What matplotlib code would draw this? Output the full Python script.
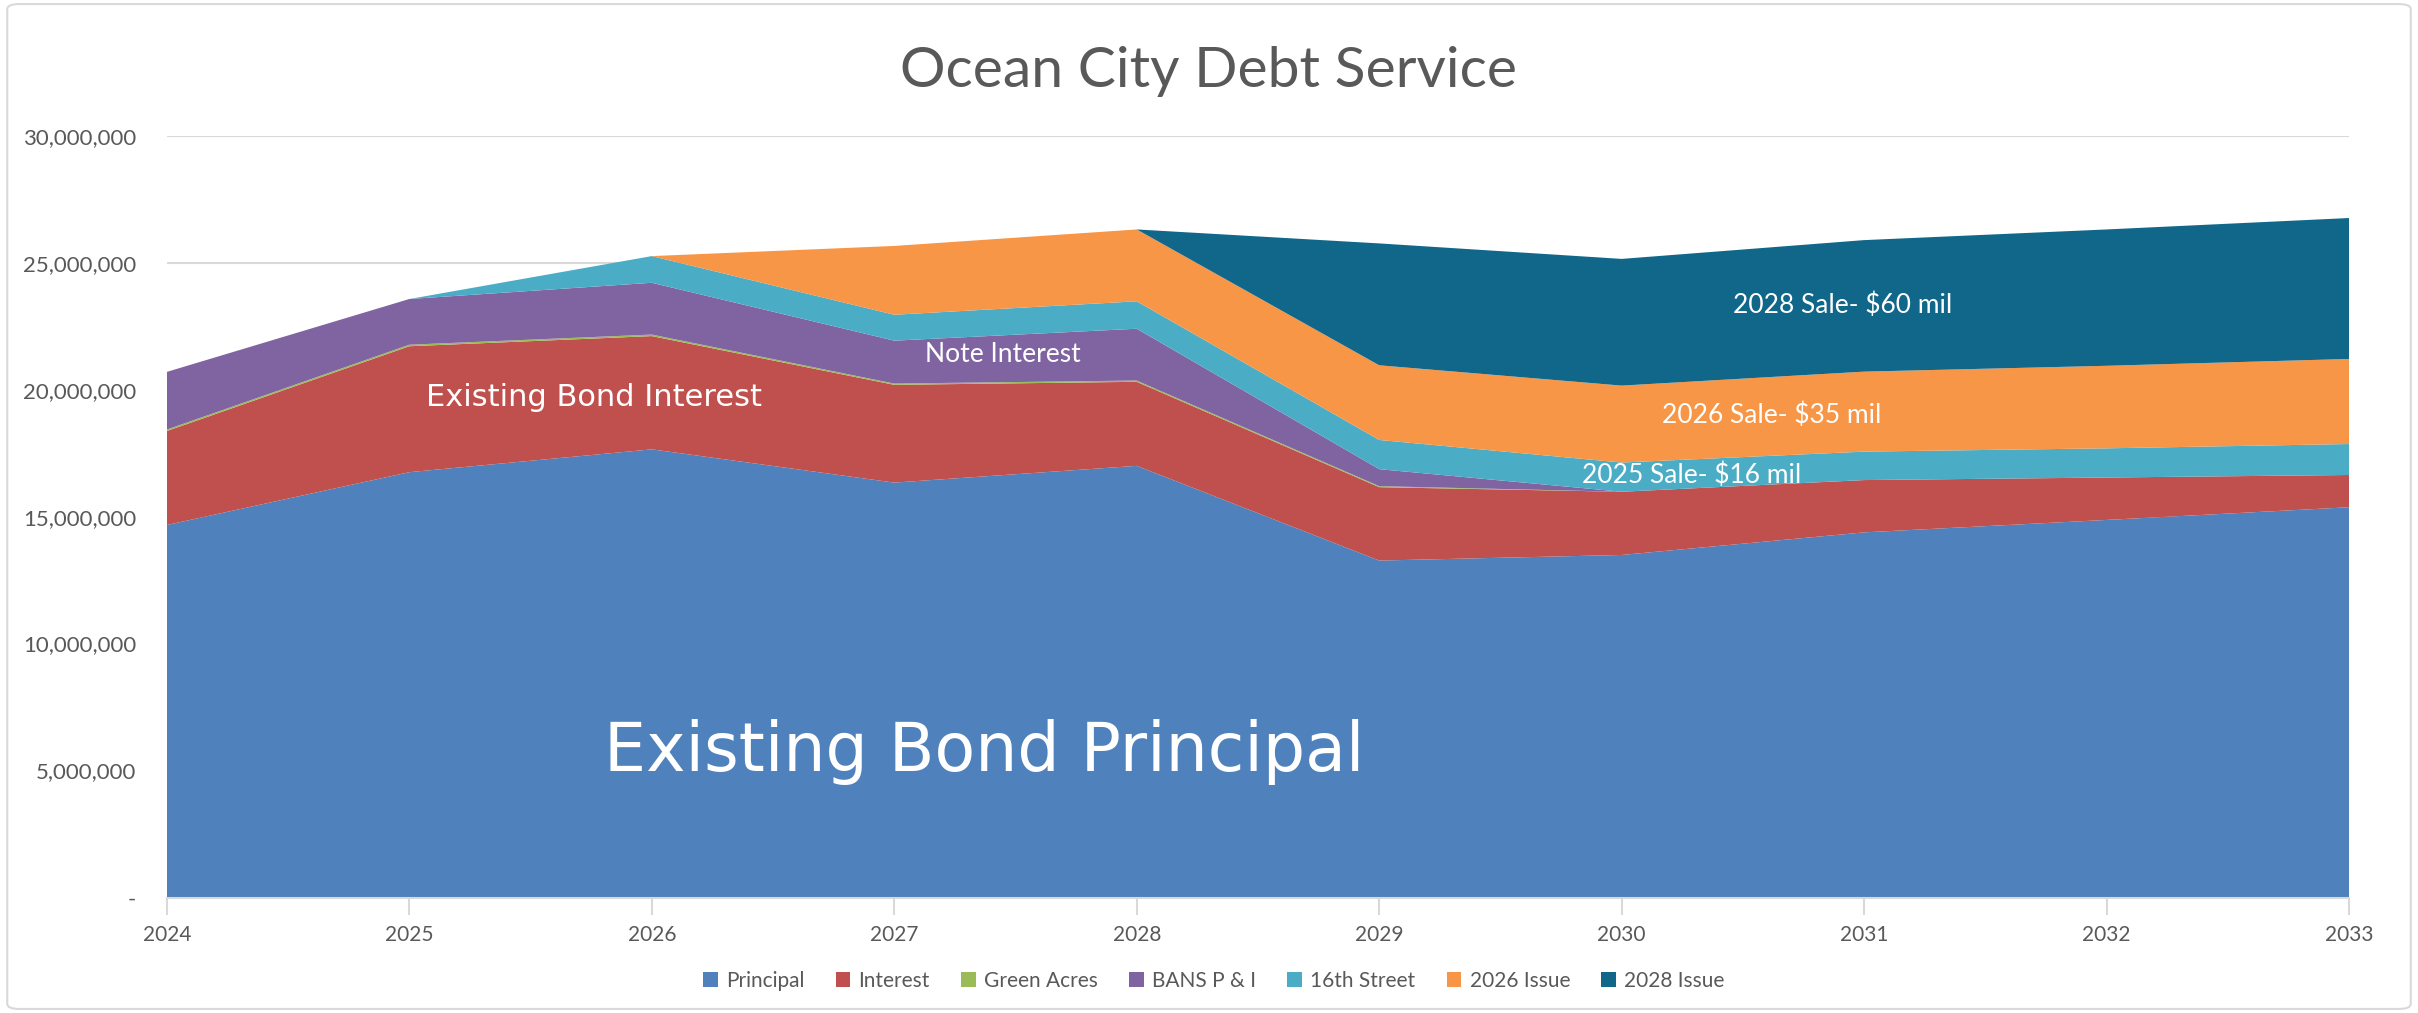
import matplotlib
matplotlib.use('Agg')
import matplotlib.pyplot as plt
from matplotlib.patches import FancyBboxPatch
from matplotlib.ticker import FuncFormatter

plt.rcParams['font.family'] = ['Lato', 'DejaVu Sans']

years = [2024, 2025, 2026, 2027, 2028, 2029, 2030, 2031, 2032, 2033]

# values in dollars (millions)
principal = [14.67, 16.75, 17.65, 16.34, 17.00, 13.27, 13.49, 14.38, 14.87, 15.37]
interest = [3.70, 4.96, 4.46, 3.85, 3.31, 2.89, 2.49, 2.06, 1.67, 1.27]
green_acres = [0.06, 0.06, 0.06, 0.05, 0.05, 0.04, 0.0, 0.0, 0.0, 0.0]
bans = [2.27, 1.80, 2.04, 1.69, 2.04, 0.67, 0.0, 0.0, 0.0, 0.0]
street16 = [0.0, 0.0, 1.05, 1.02, 1.08, 1.15, 1.15, 1.12, 1.15, 1.22]
issue2026 = [0.0, 0.0, 0.0, 2.71, 2.83, 2.94, 3.03, 3.15, 3.25, 3.35]
issue2028 = [0.0, 0.0, 0.0, 0.0, 0.0, 4.80, 4.99, 5.18, 5.37, 5.55]

series_names = ['Principal', 'Interest', 'Green Acres', 'BANS P & I',
                '16th Street', '2026 Issue', '2028 Issue']
colors = ['#4F81BD', '#C0504D', '#9BBB59', '#8064A2',
          '#4BACC6', '#F79646', '#11678A']

series = [principal, interest, green_acres, bans, street16, issue2026, issue2028]
series = [[v * 1e6 for v in s] for s in series]

fig = plt.figure(figsize=(24.18, 10.13), dpi=100)
ax = fig.add_axes([0.069, 0.114, 0.9025, 0.752])

ax.stackplot(years, *series, colors=colors, labels=series_names, linewidth=0)

ax.set_xlim(2024, 2033)
ax.set_ylim(0, 30e6)
ax.set_xticks(years)
ax.set_yticks([0, 5e6, 10e6, 15e6, 20e6, 25e6, 30e6])
ax.yaxis.set_major_formatter(FuncFormatter(lambda v, p: '-' if v == 0 else '{:,.0f}'.format(v)))

ax.grid(axis='y', color='#D9D9D9', linewidth=1.5)
ax.set_axisbelow(True)
for s in ['top', 'right', 'left']:
    ax.spines[s].set_visible(False)
ax.spines['bottom'].set_color('#D9D9D9')
ax.spines['bottom'].set_linewidth(1.5)
ax.tick_params(axis='x', colors='#D9D9D9', labelcolor='#595959', labelsize=15,
               length=12, width=1.5, pad=8)
ax.tick_params(axis='y', length=0, labelcolor='#595959', labelsize=16, pad=22)

fig.text(0.5, 0.929, 'Ocean City Debt Service', ha='center', va='center',
         fontsize=41, color='#595959')

# labels inside the areas
ax.text(2027.37, 5.75e6, 'Existing Bond Principal', ha='center', va='center',
        fontsize=48, color='white', family='DejaVu Sans')
ax.text(2025.76, 19.7e6, 'Existing Bond Interest', ha='center', va='center',
        fontsize=22, color='white', family='DejaVu Sans')
ax.text(2027.45, 21.4e6, 'Note Interest', ha='center', va='center',
        fontsize=19, color='white')
ax.text(2030.91, 23.33e6, '2028 Sale- $60 mil', ha='center', va='center',
        fontsize=19, color='white')
ax.text(2030.62, 19.0e6, '2026 Sale- $35 mil', ha='center', va='center',
        fontsize=19, color='white')
ax.text(2030.29, 16.64e6, '2025 Sale- $16 mil', ha='center', va='center',
        fontsize=19, color='white')

leg = fig.legend(loc='center', bbox_to_anchor=(0.502, 0.032), ncol=7,
                 frameon=False, fontsize=15, handlelength=0.7, handleheight=0.7,
                 handletextpad=0.4, columnspacing=1.5)
for t in leg.get_texts():
    t.set_color('#595959')

border = FancyBboxPatch((0.003, 0.004), 0.994, 0.992, boxstyle='round,pad=0,rounding_size=0.005',
                        transform=fig.transFigure, fill=False, edgecolor='#D9D9D9', linewidth=1.5)
fig.patches.append(border)

fig.savefig('out.png', dpi=100)
